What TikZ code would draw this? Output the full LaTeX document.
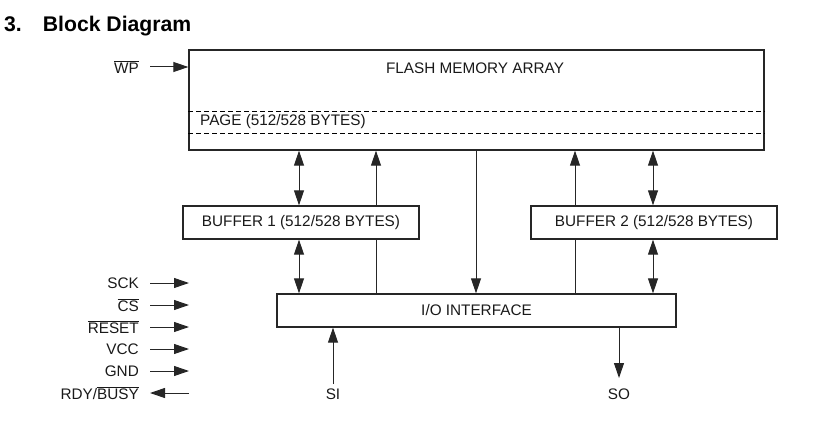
\documentclass[tikz,border=0pt]{standalone}
\usepackage{fontspec}
\setmainfont{Liberation Sans}
\usetikzlibrary{arrows.meta}
\pgfdeclarelayer{back}
\pgfsetlayers{back,main}
\begin{document}
\begin{tikzpicture}[x=1pt,y=-1pt,
  blk/.style={draw=black!85,line width=1.3pt,inner sep=0pt,fill=white},
  lbl/.style={font=\fontsize{15.3}{17}\selectfont,inner sep=0pt,text=black!90},
  conn/.style={line width=1pt,draw=black!85},
  tip/.style={-{Triangle[length=15pt,width=10pt]}},
  dtip/.style={{Triangle[length=15pt,width=10pt]}-{Triangle[length=15pt,width=10pt]}}]
\useasboundingbox (0,0) rectangle (814,428);
\node[anchor=west,inner sep=0pt,font=\fontsize{21.2}{23}\bfseries\selectfont] (title) at (4,26) {3.\hspace{21pt}Block Diagram};
% boxes
\node[blk,minimum width=575pt,minimum height=100pt] (flash) at (476.5,100) {};
\node[lbl] (flt) at (475,68) {FLASH MEMORY ARRAY};
\draw[line width=0.8pt,dash pattern=on 5pt off 3pt] (flash.west |- 0,111) -- (flash.east |- 0,111);
\draw[line width=0.8pt,dash pattern=on 5pt off 3pt] (flash.west |- 0,133) -- (flash.east |- 0,133);
\node[lbl,anchor=west] (page) at (200,122) {PAGE (512/528 BYTES)};
\node[blk,minimum width=236pt,minimum height=33pt,lbl] (b1) at (301,222.5) {BUFFER 1 (512/528 BYTES)};
\node[blk,minimum width=246pt,minimum height=33pt,lbl] (b2) at (654,222.5) {BUFFER 2 (512/528 BYTES)};
\node[blk,minimum width=399pt,minimum height=33pt,lbl] (io) at (476.5,310.5) {I/O INTERFACE};
% connectors
\draw[conn,dtip] (flash.south -| 299,0) -- (b1.north -| 299,0);
\draw[conn,dtip] (b1.south -| 299,0) -- (io.north -| 299,0);
\begin{pgfonlayer}{back}
\draw[conn,tip] (io.north -| 376,0) -- (flash.south -| 376,0);
\draw[conn,tip] (io.north -| 575,0) -- (flash.south -| 575,0);
\end{pgfonlayer}
\draw[conn,tip] (flash.south -| 476,0) -- (io.north -| 476,0);
\draw[conn,dtip] (flash.south -| 653,0) -- (b2.north -| 653,0);
\draw[conn,dtip] (b2.south -| 653,0) -- (io.north -| 653,0);
% SI SO
\node[lbl] (si) at (333,394) {SI};
\node[lbl] (so) at (619,394) {SO};
\coordinate (siA) at (333,384);
\coordinate (soA) at (619,378);
\draw[conn,tip] (siA) -- (io.south -| siA);
\draw[conn,tip] (io.south -| soA) -- (soA);
% WP
\node[lbl,anchor=east] (wp) at (139,67) {$\overline{\mbox{WP}}$};
\coordinate (wpA) at (150,67);
\draw[conn,tip] (wpA) -- (flash.west |- wpA);
% left signals
\foreach \n/\t/\y in {sck/SCK/283, cs/$\overline{\mbox{CS}}$/305, rst/$\overline{\mbox{RESET}}$/327, vcc/VCC/349, gnd/GND/371}{
  \node[lbl,anchor=east] (\n) at (139,\y) {\t};
  \coordinate (\n a) at (150,\y);
  \coordinate (\n b) at (189,\y);
  \draw[conn,tip] (\n a) -- (\n b);
}
\node[lbl,anchor=east] (rdy) at (139,393) {RDY/$\overline{\mbox{BUSY}}$};
\coordinate (rdya) at (189,393);
\coordinate (rdyb) at (150,393);
\draw[conn,tip] (rdya) -- (rdyb);
\end{tikzpicture}
\end{document}
